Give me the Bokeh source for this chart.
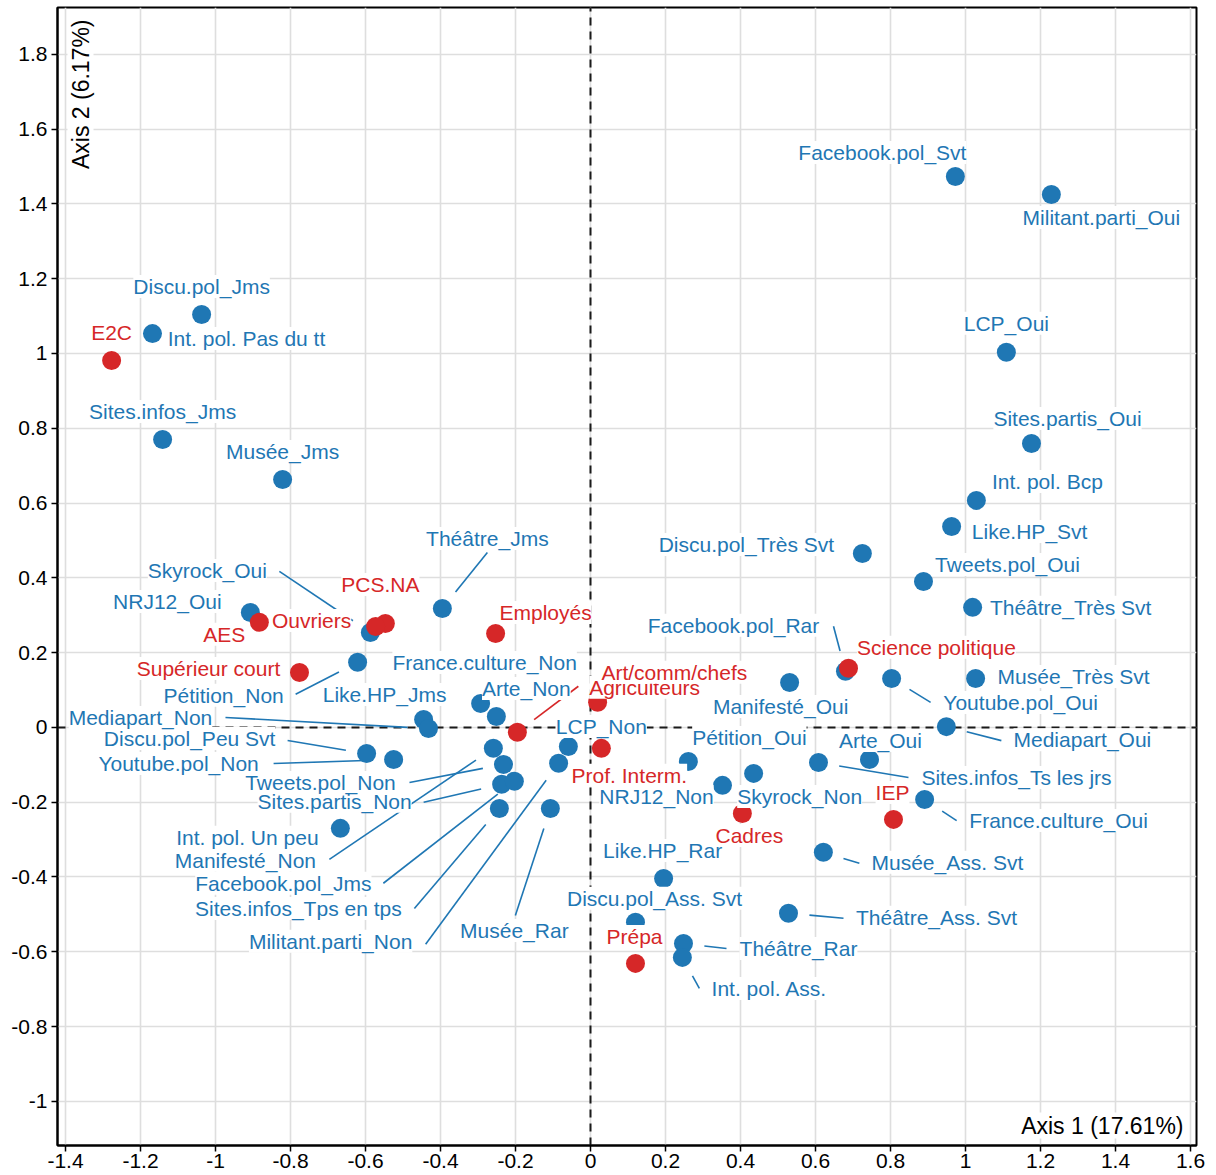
import math
from bokeh.plotting import figure
from bokeh.models import Range1d, FixedTicker, Label, ColumnDataSource
from bokeh.core.properties import value
from bokeh.embed import file_html
from bokeh.resources import INLINE

# ---------------- data (MCA coordinates) ----------------
blue_names = [
    "Facebook.pol_Svt", "Militant.parti_Oui", "Discu.pol_Jms", "Int. pol. Pas du tt",
    "LCP_Oui", "Sites.infos_Jms", "Sites.partis_Oui", "Musée_Jms", "Int. pol. Bcp",
    "Like.HP_Svt", "Discu.pol_Très Svt", "Tweets.pol_Oui", "Théâtre_Très Svt",
    "Théâtre_Jms", "NRJ12_Oui", "Skyrock_Oui", "Pétition_Non", "Facebook.pol_Rar",
    "Musée_Très Svt", "Youtube.pol_Oui", "Manifesté_Oui", "France.culture_Non",
    "Arte_Non", "Like.HP_Jms", "Mediapart_Non", "Mediapart_Oui", "Discu.pol_Peu Svt",
    "Youtube.pol_Non", "LCP_Non", "Pétition_Oui", "Arte_Oui", "Int. pol. Un peu",
    "Manifesté_Non", "Sites.partis_Non", "Tweets.pol_Non", "Facebook.pol_Jms",
    "Sites.infos_Tps en tps", "Militant.parti_Non", "Musée_Rar", "Sites.infos_Ts les jrs",
    "Skyrock_Non", "NRJ12_Non", "France.culture_Oui", "Musée_Ass. Svt", "Like.HP_Rar",
    "Discu.pol_Ass. Svt", "Théâtre_Ass. Svt", "Théâtre_Rar", "Int. pol. Ass.",
]
blue_x = [
    0.973, 1.229, -1.037, -1.168,
    1.109, -1.141, 1.176, -0.821, 1.029,
    0.963, 0.725, 0.888, 1.019,
    -0.395, -0.907, -0.587, -0.621, 0.680,
    1.027, 0.803, 0.531, -0.293,
    -0.251, -0.445, -0.432, 0.949, -0.597,
    -0.525, -0.059, 0.261, 0.744, -0.667,
    -0.259, -0.237, -0.232, -0.203,
    -0.243, -0.085, -0.107, 0.608,
    0.435, 0.352, 0.891, 0.621, 0.195,
    0.120, 0.528, 0.248, 0.245,
]
blue_y = [
    1.473, 1.425, 1.104, 1.053,
    1.003, 0.770, 0.759, 0.663, 0.607,
    0.537, 0.465, 0.390, 0.321,
    0.318, 0.307, 0.254, 0.174, 0.150,
    0.131, 0.131, 0.120, 0.064,
    0.029, 0.021, -0.003, 0.002, -0.070,
    -0.086, -0.051, -0.091, -0.086, -0.270,
    -0.056, -0.152, -0.099, -0.144,
    -0.217, -0.096, -0.217, -0.094,
    -0.123, -0.155, -0.193, -0.334, -0.404,
    -0.521, -0.497, -0.578, -0.615,
]

red_names = [
    "E2C", "PCS.NA", "Ouvriers", "AES", "Employés", "Supérieur court",
    "Science politique", "Agriculteurs", "Art/comm/chefs", "Prof. Interm.",
    "IEP", "Cadres", "Prépa",
]
red_x = [-1.277, -0.547, -0.573, -0.883, -0.253, -0.776, 0.688, 0.019, -0.195, 0.029, 0.808, 0.405, 0.120]
red_y = [0.981, 0.278, 0.270, 0.281, 0.251, 0.147, 0.158, 0.067, -0.013, -0.056, -0.246, -0.230, -0.631]

x_ticks = [-1.4, -1.2, -1.0, -0.8, -0.6, -0.4, -0.2, 0.0, 0.2, 0.4, 0.6, 0.8, 1.0, 1.2, 1.4, 1.6]
x_tick_labels = ["-1.4", "-1.2", "-1", "-0.8", "-0.6", "-0.4", "-0.2", "0",
                 "0.2", "0.4", "0.6", "0.8", "1", "1.2", "1.4", "1.6"]
y_ticks = [-1.0, -0.8, -0.6, -0.4, -0.2, 0.0, 0.2, 0.4, 0.6, 0.8, 1.0, 1.2, 1.4, 1.6, 1.8]
y_tick_labels = ["-1", "-0.8", "-0.6", "-0.4", "-0.2", "0", "0.2", "0.4",
                 "0.6", "0.8", "1", "1.2", "1.4", "1.6", "1.8"]
axis1_title = "Axis 1 (17.61%)"
axis2_title = "Axis 2 (6.17%)"

# ---------------- label layout (screen px offsets from the point) ----------------
# name: (label dx, label dy, leader-line start (dx, dy) or None); dy positive = down
label_layout = {
    "Facebook.pol_Svt": (-73, -24, None),
    "Militant.parti_Oui": (50, 23, None),
    "Discu.pol_Jms": (0, -28, None),
    "Int. pol. Pas du tt": (94, 5, None),
    "LCP_Oui": (0, -29, None),
    "Sites.infos_Jms": (0, -28, None),
    "Sites.partis_Oui": (36, -25, None),
    "Musée_Jms": (0, -28, None),
    "Int. pol. Bcp": (71, -19, None),
    "Like.HP_Svt": (78, 5, None),
    "Discu.pol_Très Svt": (-116, -9, None),
    "Tweets.pol_Oui": (84, -17, None),
    "Théâtre_Très Svt": (98, 0, None),
    "Théâtre_Jms": (45, -70, (45, -56)),
    "NRJ12_Oui": (-83, -11, None),
    "Skyrock_Oui": (-163, -62, (-91, -61)),
    "Pétition_Non": (-134, 33, (-62, 32)),
    "Facebook.pol_Rar": (-112, -46, (-12, -45)),
    "Musée_Très Svt": (98, -2, None),
    "Youtube.pol_Oui": (129, 24, (39, 24)),
    "Manifesté_Oui": (-9, 24, None),
    "France.culture_Non": (4, -41, None),
    "Arte_Non": (30, -28, None),
    "Like.HP_Jms": (-39, -25, None),
    "Mediapart_Non": (-288, -11, (-203, -11)),
    "Mediapart_Oui": (136, 13, (55, 14)),
    "Discu.pol_Peu Svt": (-177, -15, (-79, -13)),
    "Youtube.pol_Non": (-215, 4, (-120, 4)),
    "LCP_Non": (33, -20, None),
    "Pétition_Oui": (61, -24, None),
    "Arte_Oui": (11, -19, None),
    "Int. pol. Un peu": (-93, 9, None),
    "Manifesté_Non": (-248, 112, (-164, 111)),
    "Sites.partis_Non": (-167, 17, (-78, 18)),
    "Tweets.pol_Non": (-183, 18, (-94, 18)),
    "Facebook.pol_Jms": (-231, 102, (-131, 102)),
    "Sites.infos_Tps en tps": (-201, 100, (-85, 100)),
    "Militant.parti_Non": (-228, 178, (-133, 181)),
    "Musée_Rar": (-36, 122, (-35, 107)),
    "Sites.infos_Ts les jrs": (198, 15, (90, 15)),
    "Skyrock_Non": (46, 23, None),
    "NRJ12_Non": (-66, 11, None),
    "France.culture_Oui": (134, 21, (32, 21)),
    "Musée_Ass. Svt": (124, 10, (36, 11)),
    "Like.HP_Rar": (-1, -28, None),
    "Discu.pol_Ass. Svt": (19, -24, None),
    "Théâtre_Ass. Svt": (148, 4, (55, 5)),
    "Théâtre_Rar": (115, 5, (43, 5)),
    "Int. pol. Ass.": (87, 31, (17, 31)),
    "E2C": (0, -28, None),
    "PCS.NA": (-5, -39, None),
    "Ouvriers": (-64, -6, None),
    "AES": (-35, 12, None),
    "Employés": (50, -21, None),
    "Supérieur court": (-91, -4, None),
    "Science politique": (88, -21, None),
    "Agriculteurs": (47, -15, None),
    "Art/comm/chefs": (157, -60, (61, -46)),
    "Prof. Interm.": (28, 27, None),
    "IEP": (-1, -27, None),
    "Cadres": (7, 22, None),
    "Prépa": (-1, -27, None),
}

BLUE = "#1f77b4"
RED = "#d62728"
FONT = "Liberation Sans"

FRAME_W, FRAME_H = 1139, 1138
X0, X1 = -1.4213, 1.616
Y0, Y1 = -1.118, 1.925
SX = FRAME_W / (X1 - X0)
SY = FRAME_H / (Y1 - Y0)
GAP = 21.0

p = figure(frame_width=FRAME_W, frame_height=FRAME_H,
           x_range=Range1d(X0, X1), y_range=Range1d(Y0, Y1),
           output_backend="svg", toolbar_location=None,
           min_border_left=57, min_border_right=14, min_border_top=7, min_border_bottom=10)
p.background_fill_color = "white"
p.border_fill_color = "white"
p.outline_line_color = "black"
p.outline_line_width = 2

p.xaxis.ticker = FixedTicker(ticks=x_ticks)
p.yaxis.ticker = FixedTicker(ticks=y_ticks)
p.xgrid.ticker = FixedTicker(ticks=x_ticks)
p.ygrid.ticker = FixedTicker(ticks=y_ticks)
p.xaxis.major_label_overrides = dict(zip(x_ticks, x_tick_labels))
p.yaxis.major_label_overrides = dict(zip(y_ticks, y_tick_labels))
for ax in (p.xaxis, p.yaxis):
    ax.axis_line_color = "black"
    ax.axis_line_width = 2
    ax.major_tick_line_color = "black"
    ax.major_tick_line_width = 1.5
    ax.major_tick_out = 6
    ax.major_tick_in = 0
    ax.minor_tick_line_color = None
    ax.major_label_text_font = FONT
    ax.major_label_text_font_size = "21px"
    ax.major_label_text_color = "black"
p.xaxis.major_label_standoff = 2
p.yaxis.major_label_standoff = 4
p.grid.grid_line_color = "#dedede"
p.grid.grid_line_width = 1.6

# zero lines
p.segment(x0=[0, X0], y0=[Y0, 0], x1=[0, X1], y1=[Y1, 0],
          line_color="#1a1a1a", line_width=2, line_dash="8 6")


def build(names, xs, ys, col):
    labels, segs = [], ([], [], [], [])
    for n, x, y in zip(names, xs, ys):
        dx, dy, seg = label_layout[n]
        labels.append((y - dy / SY, x + dx / SX, n, col))
        if seg is not None:
            sdx, sdy = seg
            L = math.hypot(sdx, sdy)
            segs[0].append(x + sdx / SX)
            segs[1].append(y - sdy / SY)
            segs[2].append(x + sdx * GAP / L / SX)
            segs[3].append(y - sdy * GAP / L / SY)
    return labels, segs


blab, bseg = build(blue_names, blue_x, blue_y, BLUE)
rlab, rseg = build(red_names, red_x, red_y, RED)

p.segment(x0=bseg[0], y0=bseg[1], x1=bseg[2], y1=bseg[3], line_color=BLUE, line_width=1.6)
p.segment(x0=rseg[0], y0=rseg[1], x1=rseg[2], y1=rseg[3], line_color=RED, line_width=1.6)

p.scatter(x=blue_x, y=blue_y, size=19, fill_color=BLUE, line_color=None)
p.scatter(x=red_x, y=red_y, size=19, fill_color=RED, line_color=None)

# labels drawn from the lowest to the highest so descenders stay visible
all_labels = sorted(blab + rlab, key=lambda t: t[0])
lsrc = ColumnDataSource(dict(
    y=[t[0] for t in all_labels], x=[t[1] for t in all_labels],
    t=[t[2] for t in all_labels], c=[t[3] for t in all_labels]))
p.text(x="x", y="y", text="t", source=lsrc, text_color="c",
       text_font=value(FONT), text_font_size="21px",
       text_align="center", text_baseline="middle",
       background_fill_color="white")

p.add_layout(Label(x=X0 + 10 / SX, y=Y1 - 12 / SY, text=axis2_title, angle=math.pi / 2,
                   text_align="right", text_baseline="top", text_font=FONT,
                   text_font_size="23px", text_color="black",
                   background_fill_color="white"))
p.add_layout(Label(x=X1 - 13 / SX, y=Y0 + 20 / SY, text=axis1_title,
                   text_align="right", text_baseline="middle", text_font=FONT,
                   text_font_size="23px", text_color="black",
                   background_fill_color="white"))

open("out.html", "w").write(file_html(p, INLINE))
